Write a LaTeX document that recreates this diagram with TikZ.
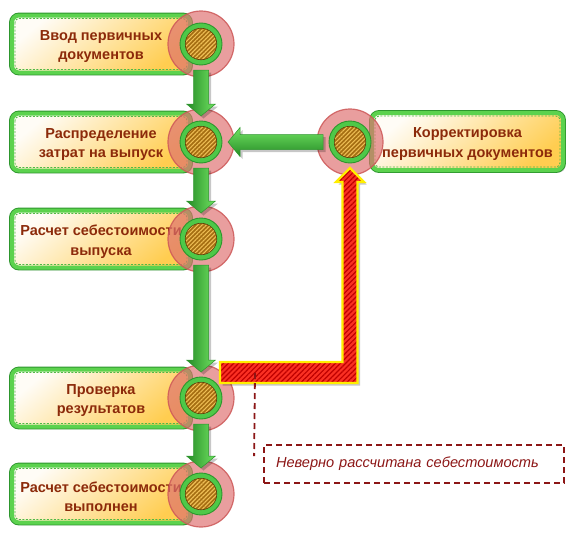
\documentclass[tikz,border=0pt]{standalone}
\usepackage{fontspec}
\setmainfont{Liberation Sans}
\usetikzlibrary{calc,patterns.meta,shadows}

\definecolor{txtbrown}{RGB}{140,42,10}
\definecolor{gbright}{RGB}{92,210,78}
\definecolor{gdark}{RGB}{45,150,45}
\definecolor{gdashed}{RGB}{80,185,70}
\definecolor{cream}{RGB}{255,252,246}
\definecolor{creammid}{RGB}{255,234,200}
\definecolor{goldbox}{RGB}{255,205,80}
\definecolor{pinkfill}{RGB}{222,112,112}
\definecolor{pinkdraw}{RGB}{205,88,88}
\definecolor{ringgreen}{RGB}{78,200,72}
\definecolor{hatchbase}{RGB}{165,110,18}
\definecolor{hatchline}{RGB}{238,190,85}
\definecolor{redfill}{RGB}{250,48,35}
\definecolor{redline}{RGB}{190,0,0}
\definecolor{yel}{RGB}{255,238,0}
\definecolor{callred}{RGB}{140,22,22}
\definecolor{arrowdark}{RGB}{38,140,38}
\definecolor{arrowlight}{RGB}{112,226,98}

\tikzset{
  softshadow/.style={drop shadow={shadow xshift=2.5pt, shadow yshift=-2.5pt, opacity=0.22, fill=black}},
  stepbox/.style={rounded corners=7pt, minimum width=178pt, minimum height=57pt,
    inner sep=0pt, softshadow, preaction={draw=gdark, line width=5.8pt},
    draw=gbright, line width=4pt,
    top color=cream, middle color=creammid, bottom color=goldbox, shading angle=40},
  boxtext/.style={inner sep=0pt, align=center, font=\bfseries\fontsize{14.5}{19.5}\selectfont, text=txtbrown},
  innerdash/.style={draw=gdashed, line width=0.9pt, dash pattern=on 2pt off 1.5pt, rounded corners=4pt},
  bigdisc/.style={circle, minimum size=66pt, inner sep=0pt, fill=pinkfill, fill opacity=0.68,
    draw=pinkdraw, draw opacity=0.85, line width=1.2pt},
  ringdisc/.style={circle, minimum size=42pt, inner sep=0pt, fill=ringgreen, draw=gdark, line width=0.9pt},
  hatchdisc/.style={circle, minimum size=31.5pt, inner sep=0pt, preaction={fill=hatchbase},
    pattern={Lines[angle=45,distance=3pt,line width=1.1pt]}, pattern color=hatchline,
    draw={rgb,255:red,95;green,65;blue,10}, line width=0.6pt},
  garrowv/.style={left color=arrowdark, right color=arrowlight, draw=gdark, line width=0.5pt, softshadow},
  garrowh/.style={top color=arrowlight, bottom color=arrowdark, draw=gdark, line width=0.5pt, softshadow},
  redarrow/.style={softshadow, preaction={fill=redfill},
    pattern={Lines[angle=45,distance=3.6pt,line width=1.2pt]}, pattern color=redline,
    draw=yel, line width=2.2pt, line join=miter},
  calldash/.style={draw=callred, line width=1.8pt, dash pattern=on 6pt off 4pt},
  callbox/.style={calldash, text width=276pt, inner xsep=12pt, minimum height=38pt, align=left,
    font=\itshape\fontsize{14.6}{16}\selectfont, text=callred}
}

\newcommand\stepdisc[2]{%
  \node[bigdisc] (#1) at (#2) {};
  \node[ringdisc] (#1r) at (#1) {};
  \node[hatchdisc] (#1h) at (#1) {};
}
\newcommand\stepnode[4]{% name, position, width, text
  \node[stepbox, minimum width=#3] (#1) at (#2) {};
  \draw[innerdash] ($(#1.north west)+(5,5)$) rectangle ($(#1.south east)+(-5,-5)$);
  \node[boxtext] (#1t) at ($(#1)+(0,2.5)$) {#4};
}
\newcommand\greendown[2]{%
  \path[garrowv] ($(#1)+(-7.5,26)$) -- ($(#2)+(-7.5,-38)$) -- ($(#2)+(-14.5,-38)$)
    -- ($(#2)+(0,-26)$) -- ($(#2)+(14.5,-38)$) -- ($(#2)+(7.5,-38)$)
    -- ($(#1)+(7.5,26)$) -- cycle;
}

\begin{document}
\begin{tikzpicture}[x=1pt,y=-1pt]
\useasboundingbox (0,0) rectangle (578,546);

% boxes
\stepnode{b1}{101,44}{178pt}{Ввод первичных\\документов}
\stepnode{b2}{101,142}{178pt}{Распределение\\затрат на выпуск}
\stepnode{b3}{101,239}{178pt}{Расчет себестоимости\\выпуска}
\stepnode{b4}{101,398}{178pt}{Проверка\\результатов}
\stepnode{b5}{101,494}{178pt}{Расчет себестоимости\\выполнен}
\stepnode{bR}{467.5,141.5}{191pt}{Корректировка\\первичных документов}

% discs
\stepdisc{c1}{201,44}
\stepdisc{c2}{201,142}
\stepdisc{c3}{201,239}
\stepdisc{c4}{201,398}
\stepdisc{c5}{201,494}
\stepdisc{cR}{350,142}

% green arrows
\greendown{c1}{c2}
\greendown{c2}{c3}
\greendown{c3}{c4}
\greendown{c4}{c5}
\path[garrowh] ($(cR)+(-27,-7.5)$) -- ($(c2)+(39,-7.5)$) -- ($(c2)+(39,-14.5)$)
  -- ($(c2)+(27,0)$) -- ($(c2)+(39,14.5)$) -- ($(c2)+(39,7.5)$)
  -- ($(cR)+(-27,7.5)$) -- cycle;

% red return arrow
\coordinate (ra1) at ($(c4)+(19,-36)$);
\coordinate (ra2) at ($(c4)+(19,-15)$);
\coordinate (rb1) at ($(cR)+(-7.5,40)$);
\coordinate (rb2) at ($(cR)+(7.5,40)$);
\coordinate (rh1) at ($(cR)+(-14,40)$);
\coordinate (rh2) at ($(cR)+(14,40)$);
\coordinate (rt) at ($(cR)+(0,26)$);
\path[redarrow] (ra1) -- (rb1 |- ra1) -- (rb1) -- (rh1) -- (rt) -- (rh2) -- (rb2)
  -- (rb2 |- ra2) -- (ra2) -- cycle;

% callout
\node[callbox] (note) at (414,464) {Неверно рассчитана себестоимость};
\coordinate (dl) at ($(ra2)+(35,-10)$);
\draw[calldash] (dl) -- ($(note.north west)+(-9,12)$);
\end{tikzpicture}
\end{document}
